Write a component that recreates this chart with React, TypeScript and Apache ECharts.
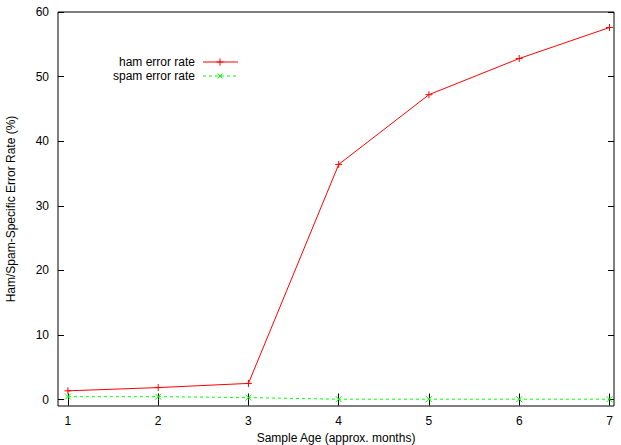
import React, { useEffect, useRef } from "react";
import * as echarts from "echarts";

const months = [1, 2, 3, 4, 5, 6, 7];
const hamErrorRate = [1.35, 1.85, 2.5, 36.4, 47.2, 52.8, 57.6];
const spamErrorRate = [0.45, 0.45, 0.3, 0.05, 0.05, 0.05, 0.05];
const xTicks = [1, 2, 3, 4, 5, 6, 7];
const yTicks = [0, 10, 20, 30, 40, 50, 60];
const seriesNames = ["ham error rate", "spam error rate"];

const FONT = "'Liberation Sans', Arial, Helvetica, sans-serif";
const RED = "#ff0000";
const GREEN = "#00ff00";

export default function App() {
  const ref = useRef<HTMLDivElement>(null);
  useEffect(() => {
    if (!ref.current) return;
    const chart = echarts.init(ref.current, null, { renderer: "svg" });
    const plus = "path://M0,-5L0,5M-5,0L5,0";
    const cross = "path://M-4,-4L4,4M-4,4L4,-4";
    const baseX = {
      type: "value",
      min: 0.89,
      max: 7.05,
      splitLine: { show: false },
      axisLine: { show: false },
    };
    const baseY = {
      type: "value",
      min: -1,
      max: 60,
      splitLine: { show: false },
      axisLine: { show: false },
    };
    chart.setOption({
      animation: false,
      grid: {
        left: 58,
        right: 7,
        top: 12,
        bottom: 39,
        show: true,
        borderColor: "#000",
        borderWidth: 1,
        backgroundColor: "transparent",
        outerBoundsMode: "none",
        containLabel: false,
      },
      xAxis: [
        {
          ...baseX,
          position: "bottom",
          name: "Sample Age (approx. months)",
          nameLocation: "middle",
          nameGap: 25,
          nameTextStyle: { fontFamily: FONT, fontSize: 12, color: "#000" },
          axisTick: { inside: true, length: 6, customValues: xTicks, lineStyle: { color: "#000" } },
          axisLabel: { customValues: xTicks, fontFamily: FONT, fontSize: 12, color: "#000", margin: 9 },
        },
        {
          ...baseX,
          position: "top",
          axisTick: { inside: true, length: 6, customValues: xTicks, lineStyle: { color: "#000" } },
          axisLabel: { show: false, customValues: xTicks },
        },
      ],
      yAxis: [
        {
          ...baseY,
          position: "left",
          name: "Ham/Spam-Specific Error Rate (%)",
          nameLocation: "middle",
          nameGap: 41,
          nameTextStyle: { fontFamily: FONT, fontSize: 12, color: "#000" },
          axisTick: { inside: true, length: 6, customValues: yTicks, lineStyle: { color: "#000" } },
          axisLabel: { customValues: yTicks, fontFamily: FONT, fontSize: 12, color: "#000", margin: 9 },
        },
        {
          ...baseY,
          position: "right",
          axisTick: { inside: true, length: 6, customValues: yTicks, lineStyle: { color: "#000" } },
          axisLabel: { show: false, customValues: yTicks },
        },
      ],
      graphic: [
        {
          type: "text",
          style: {
            text: seriesNames[0],
            x: 195,
            y: 62,
            align: "right",
            verticalAlign: "middle",
            fontFamily: FONT,
            fontSize: 12,
            fill: "#000",
          },
        },
        {
          type: "text",
          style: {
            text: seriesNames[1],
            x: 195,
            y: 76,
            align: "right",
            verticalAlign: "middle",
            fontFamily: FONT,
            fontSize: 12,
            fill: "#000",
          },
        },
        { type: "line", shape: { x1: 203, y1: 62, x2: 238, y2: 62 }, style: { stroke: RED, lineWidth: 1 } },
        { type: "line", shape: { x1: 220, y1: 58.5, x2: 220, y2: 65.5 }, style: { stroke: RED, lineWidth: 1 } },
        { type: "line", shape: { x1: 216.5, y1: 62, x2: 223.5, y2: 62 }, style: { stroke: RED, lineWidth: 1 } },
        { type: "line", shape: { x1: 203, y1: 76, x2: 238, y2: 76 }, style: { stroke: GREEN, lineWidth: 1, lineDash: [3, 3] } },
        { type: "line", shape: { x1: 217.5, y1: 73.5, x2: 222.5, y2: 78.5 }, style: { stroke: GREEN, lineWidth: 1 } },
        { type: "line", shape: { x1: 217.5, y1: 78.5, x2: 222.5, y2: 73.5 }, style: { stroke: GREEN, lineWidth: 1 } },
      ],
      series: [
        {
          name: seriesNames[0],
          type: "line",
          data: months.map((m, i) => [m, hamErrorRate[i]]),
          symbol: plus,
          symbolSize: 7,
          showAllSymbol: true,
          lineStyle: { color: RED, width: 1 },
          itemStyle: { color: RED, borderColor: RED, borderWidth: 1 },
        },
        {
          name: seriesNames[1],
          type: "line",
          data: months.map((m, i) => [m, spamErrorRate[i]]),
          symbol: cross,
          symbolSize: 6,
          showAllSymbol: true,
          lineStyle: { color: GREEN, width: 1, type: [3, 3] },
          itemStyle: { color: GREEN, borderColor: GREEN, borderWidth: 1 },
        },
      ],
    });
    return () => chart.dispose();
  }, []);
  return <div ref={ref} style={{ width: 621, height: 445, position: "absolute", left: 0, top: 0, background: "#fff" }} />;
}
